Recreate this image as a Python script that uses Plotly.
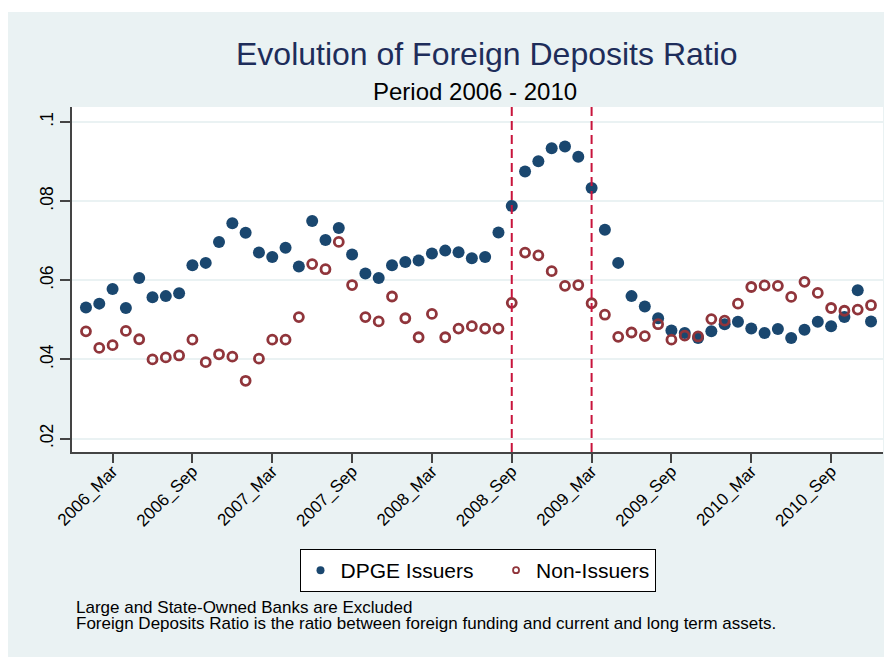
import plotly.graph_objects as go

# ---------------- data ----------------
years = [2006, 2007, 2008, 2009, 2010]
month_abbr = ["Jan", "Feb", "Mar", "Apr", "May", "Jun",
              "Jul", "Aug", "Sep", "Oct", "Nov", "Dec"]
months = [f"{y}_{m}" for y in years for m in month_abbr]

dpge_issuers = [
    0.0531, 0.0541, 0.0578, 0.0530, 0.0606, 0.0557, 0.0560, 0.0567, 0.0638, 0.0644, 0.0697, 0.0744,
    0.0720, 0.0670, 0.0659, 0.0682, 0.0635, 0.0750, 0.0702, 0.0732, 0.0665, 0.0617, 0.0606, 0.0638,
    0.0646, 0.0650, 0.0668, 0.0675, 0.0671, 0.0656, 0.0659, 0.0721, 0.0788, 0.0875, 0.0901, 0.0934,
    0.0938, 0.0912, 0.0833, 0.0728, 0.0644, 0.0560, 0.0534, 0.0504, 0.0473, 0.0467, 0.0454, 0.0471,
    0.0489, 0.0495, 0.0478, 0.0467, 0.0477, 0.0454, 0.0475, 0.0495, 0.0484, 0.0507, 0.0575, 0.0496,
]
non_issuers = [
    0.0471, 0.0429, 0.0436, 0.0472, 0.0451, 0.0400, 0.0405, 0.0410, 0.0450, 0.0393, 0.0413, 0.0407,
    0.0346, 0.0402, 0.0450, 0.0450, 0.0507, 0.0641, 0.0628, 0.0697, 0.0588, 0.0507, 0.0496, 0.0559,
    0.0504, 0.0456, 0.0515, 0.0456, 0.0478, 0.0484, 0.0478, 0.0478, 0.0543, 0.0670, 0.0663, 0.0623,
    0.0586, 0.0588, 0.0542, 0.0513, 0.0457, 0.0468, 0.0459, 0.0489, 0.0450, 0.0460, 0.0458, 0.0502,
    0.0498, 0.0541, 0.0583, 0.0587, 0.0586, 0.0558, 0.0596, 0.0568, 0.0530, 0.0523, 0.0526, 0.0537,
]
x_tick_labels = ["2006_Mar", "2006_Sep", "2007_Mar", "2007_Sep", "2008_Mar",
                 "2008_Sep", "2009_Mar", "2009_Sep", "2010_Mar", "2010_Sep"]
y_tick_values = [0.02, 0.04, 0.06, 0.08, 0.1]
y_tick_labels = [".02", ".04", ".06", ".08", ".1"]
event_months = ["2008_Sep", "2009_Mar"]
series_names = ["DPGE Issuers", "Non-Issuers"]

title_text = "Evolution of Foreign Deposits Ratio"
subtitle_text = "Period 2006 - 2010"
note_lines = ["Large and State-Owned Banks are Excluded",
              "Foreign Deposits Ratio is the ratio between foreign funding and current and long term assets."]

# ---------------- style ----------------
OFF = 8                      # page body margin
W, H = 892 - OFF, 657 - OFF
ML, MR, MT, MB = 64, 9, 99, 205
PW, PH = W - ML - MR, H - MT - MB
BG = "#EAF2F3"
NAVY = "#1A476F"
MAROON = "#90353B"
VLINE = "#C8143C"
FONT = "Liberation Sans, Arial, sans-serif"


def px_x(p):
    """screen x (page pixels) -> paper x"""
    return (p - OFF - ML) / PW


def px_y(p):
    """screen y (page pixels) -> paper y"""
    return (H - MB - (p - OFF)) / PH


fig = go.Figure()
fig.add_trace(go.Scatter(
    x=months, y=dpge_issuers, mode="markers", showlegend=False,
    marker=dict(symbol="circle", size=12, color=NAVY, line=dict(width=0)),
))
fig.add_trace(go.Scatter(
    x=months, y=non_issuers, mode="markers", showlegend=False,
    marker=dict(symbol="circle-open", size=9, color=MAROON, line=dict(width=2.8, color=MAROON)),
))
# legend entries (smaller symbols, as in the reference legend)
fig.add_trace(go.Scatter(
    x=[None], y=[None], mode="markers", name=series_names[0] + "\u00a0\u00a0\u00a0",
    marker=dict(symbol="circle", size=8, color=NAVY),
))
fig.add_trace(go.Scatter(
    x=[None], y=[None], mode="markers", name=series_names[1],
    marker=dict(symbol="circle-open", size=6, color=MAROON, line=dict(width=1.8, color=MAROON)),
))

shapes = []
for m in event_months:
    shapes.append(dict(type="line", xref="x", yref="paper", x0=m, x1=m, y0=0, y1=1,
                       line=dict(color=VLINE, width=2, dash="9px,5px"), layer="above"))
# white strip at top of the light graph region
shapes.append(dict(type="rect", xref="paper", yref="paper", x0=px_x(0), x1=px_x(900),
                   y0=px_y(12), y1=px_y(0), fillcolor="white", line=dict(width=0), layer="below"))

annotations = [
    dict(text=title_text, xref="paper", yref="paper", x=px_x(487), y=px_y(54),
         xanchor="center", yanchor="middle", showarrow=False,
         font=dict(family=FONT, size=32, color="#1E2D5A")),
    dict(text=subtitle_text, xref="paper", yref="paper", x=px_x(474.5), y=px_y(91.5),
         xanchor="center", yanchor="middle", showarrow=False,
         font=dict(family=FONT, size=24, color="black")),
]
for i, line in enumerate(note_lines):
    annotations.append(dict(text=line, xref="paper", yref="paper", x=px_x(74), y=px_y(607 + 16 * i),
                            xanchor="left", yanchor="middle", showarrow=False,
                            font=dict(family=FONT, size=17, color="black")))

fig.update_layout(
    width=W, height=H,
    margin=dict(l=ML, r=MR, t=MT, b=MB, autoexpand=False),
    paper_bgcolor=BG, plot_bgcolor="white",
    font=dict(family=FONT, color="black"),
    shapes=shapes, annotations=annotations,
    legend=dict(orientation="h", x=0.5, xanchor="center", y=px_y(549), yanchor="top",
                bgcolor="white", bordercolor="black", borderwidth=1,
                font=dict(family=FONT, size=21, color="black")),
    xaxis=dict(type="category", categoryorder="array", categoryarray=months,
               range=[-1.05, 59.9], tickmode="array", tickvals=x_tick_labels, ticktext=x_tick_labels,
               tickangle=-45, ticks="outside", ticklen=9, tickwidth=1.5, tickcolor="#444",
               ticklabelstandoff=-8,
               showline=True, linecolor="#444", linewidth=1.5, showgrid=False, zeroline=False,
               tickfont=dict(family=FONT, size=17, color="black")),
    yaxis=dict(range=[0.0166, 0.1038], tickmode="array", tickvals=y_tick_values, ticktext=y_tick_labels,
               tickangle=-90, ticks="outside", ticklen=10, tickwidth=1.5, tickcolor="#444",
               showline=True, linecolor="#444", linewidth=1.5, showgrid=True, gridcolor=BG, gridwidth=2,
               zeroline=False, tickfont=dict(family=FONT, size=17.5, color="black")),
)

fig.write_html("out.html")
